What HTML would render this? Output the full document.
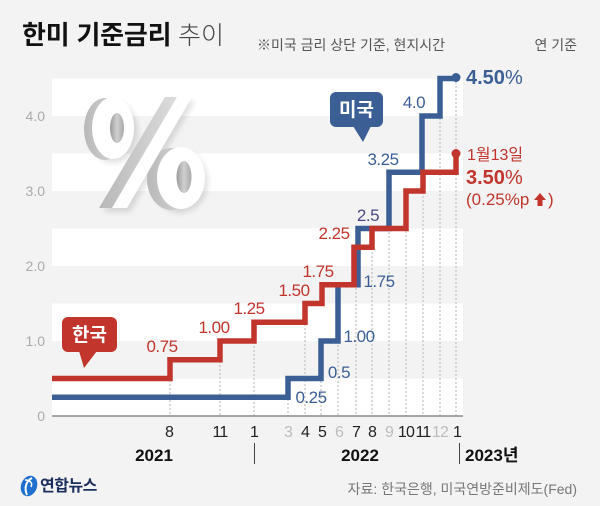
<!DOCTYPE html>
<html><head><meta charset="utf-8">
<style>
html,body{margin:0;padding:0;background:#f3f3f3;}
svg{display:block;}
text{font-family:"Liberation Sans","Noto Sans CJK KR",sans-serif;}
.kr{font-family:"Liberation Sans","Noto Sans CJK KR",sans-serif;}
</style></head>
<body>
<svg width="600" height="506" viewBox="0 0 600 506" xmlns="http://www.w3.org/2000/svg">
<defs>
<linearGradient id="hole" x1="0" y1="0" x2="1" y2="0">
<stop offset="0" stop-color="#9a9a9a"/>
<stop offset="0.5" stop-color="#d0d0d0"/>
<stop offset="1" stop-color="#a8a8a8"/>
</linearGradient>
<linearGradient id="ext" x1="0" y1="0" x2="1" y2="0">
<stop offset="0" stop-color="#b8b8b8"/>
<stop offset="1" stop-color="#dcdcdc"/>
</linearGradient>
<filter id="sh" x="-20%" y="-20%" width="140%" height="140%">
<feGaussianBlur stdDeviation="3"/>
</filter>
</defs>
<rect x="0" y="0" width="600" height="506" fill="#f3f3f3"/>
<!-- bands -->
<g fill="#ffffff">
<rect x="52" y="78.5" width="411" height="37.5"/>
<rect x="52" y="153.5" width="411" height="37.5"/>
<rect x="52" y="228.5" width="411" height="37.5"/>
<rect x="52" y="303.5" width="411" height="37.5"/>
<rect x="52" y="378.5" width="411" height="37.5"/>
</g>
<!-- title -->
<text x="22" y="44" font-size="26" font-weight="bold" fill="#111" class="kr" letter-spacing="-0.2">한미 기준금리</text>
<text x="178" y="44" font-size="25" font-weight="300" fill="#444" class="kr">추이</text>
<text x="257" y="50" font-size="14" fill="#555" class="kr">※미국 금리 상단 기준, 현지시간</text>
<text x="577" y="50" font-size="14" fill="#555" text-anchor="end" class="kr">연 기준</text>
<!-- y labels -->
<g font-size="14" fill="#aaa" text-anchor="end">
<text x="45" y="121">4.0</text>
<text x="45" y="196">3.0</text>
<text x="45" y="271">2.0</text>
<text x="45" y="346">1.0</text>
<text x="45" y="421">0</text>
</g>
<!-- big percent decoration (shapes) -->
<g>
<g filter="url(#sh)" fill="#000" opacity="0.12" transform="translate(3,4)">
<ellipse cx="110" cy="128" rx="25" ry="31"/>
<ellipse cx="177" cy="178" rx="28" ry="31"/>
<polygon points="100,208 127,208 192,97 165,97"/>
</g>
<g fill="url(#ext)">
<ellipse cx="105" cy="129" rx="21" ry="31"/>
<ellipse cx="171" cy="179" rx="24" ry="31"/>
<polygon points="99,208 112,208 177,97 165,97"/>
</g>
<g fill="#ffffff">
<ellipse cx="113" cy="128" rx="21" ry="31"/>
<ellipse cx="181" cy="178" rx="24" ry="31"/>
<polygon points="112,208 127,208 192,97 177,97"/>
</g>
<ellipse cx="117" cy="128" rx="7" ry="15" fill="url(#hole)"/>
<ellipse cx="184" cy="177" rx="7.5" ry="16" fill="url(#hole)"/>
</g>
<!-- dashed ticks -->
<g stroke="#b5b5b5" stroke-width="1" stroke-dasharray="2,2" fill="none">
<line x1="170" y1="360" x2="170" y2="416"/>
<line x1="220" y1="341" x2="220" y2="416"/>
<line x1="254" y1="322" x2="254" y2="416"/>
<line x1="288" y1="379" x2="288" y2="416"/>
<line x1="305" y1="304" x2="305" y2="416"/>
<line x1="321" y1="341" x2="321" y2="416"/>
<line x1="338" y1="285" x2="338" y2="416"/>
<line x1="356" y1="228" x2="356" y2="416"/>
<line x1="372" y1="228" x2="372" y2="416"/>
<line x1="389" y1="172" x2="389" y2="416"/>
<line x1="406" y1="191" x2="406" y2="416"/>
<line x1="423" y1="116" x2="423" y2="416"/>
<line x1="440" y1="78" x2="440" y2="416"/>
<line x1="456" y1="78" x2="456" y2="416"/>
</g>
<!-- axis -->
<line x1="52" y1="416" x2="463" y2="416" stroke="#8a8a8a" stroke-width="1.5"/>
<!-- blue series -->
<path d="M52,397.25 H288 V378.5 H321 V341 H338 V284.75 H358 V228.5 H389 V172.25 H422 V116 H440 V78.5 H456" fill="none" stroke="#3b5f95" stroke-width="5.5" stroke-linejoin="miter"/>
<circle cx="456" cy="77.5" r="4.5" fill="#3b5f95"/>
<!-- red series -->
<path d="M52,378.5 H170 V359.75 H220 V341 H254 V322.25 H305 V303.5 H322 V284.75 H354 V247.25 H372 V228.5 H406 V191 H423 V172.25 H456 V153.5" fill="none" stroke="#c1352c" stroke-width="5.5" stroke-linejoin="miter"/>
<circle cx="456" cy="153.5" r="4.5" fill="#c1352c"/>
<!-- red labels -->
<g font-size="17" fill="#c1352c" text-anchor="middle" letter-spacing="-0.5">
<text x="162" y="352">0.75</text>
<text x="214" y="333">1.00</text>
<text x="249" y="314">1.25</text>
<text x="294" y="296">1.50</text>
<text x="318" y="277">1.75</text>
<text x="334" y="239">2.25</text>
</g>
<!-- blue labels -->
<g font-size="17" fill="#3b5f95" text-anchor="middle" letter-spacing="-0.5">
<text x="311" y="403">0.25</text>
<text x="339" y="378">0.5</text>
<text x="359" y="342">1.00</text>
<text x="379" y="287">1.75</text>
<text x="368" y="221" fill="#4a4a82">2.5</text>
<text x="383" y="165">3.25</text>
<text x="414" y="108">4.0</text>
</g>
<!-- end labels -->
<text x="466" y="84" font-size="20" font-weight="bold" fill="#3b5f95">4.50<tspan font-weight="normal">%</tspan></text>
<text x="467" y="160" font-size="16" fill="#c1352c" class="kr">1월13일</text>
<text x="466" y="184" font-size="20" font-weight="bold" fill="#c1352c">3.50<tspan font-weight="normal">%</tspan></text>
<text x="466" y="205" font-size="17" fill="#c1352c" class="kr">(0.25%p</text>
<polygon points="540,193 546,200 542.5,200 542.5,206 537.5,206 537.5,200 534,200" fill="#c1352c"/>
<text x="548" y="205" font-size="17" fill="#c1352c">)</text>
<!-- 미국 callout -->
<rect x="330" y="92" width="53" height="35" rx="6" fill="#3b5f95"/>
<polygon points="353,126 371,126 363,142" fill="#3b5f95"/>
<text x="356.5" y="116" font-size="19" font-weight="bold" fill="#fff" text-anchor="middle" class="kr">미국</text>
<!-- 한국 callout -->
<rect x="62" y="317" width="55" height="35" rx="6" fill="#c1352c"/>
<polygon points="79,351 97,351 84,368" fill="#c1352c"/>
<text x="89.5" y="341" font-size="19" font-weight="bold" fill="#fff" text-anchor="middle" class="kr">한국</text>
<!-- month labels -->
<g font-size="16" text-anchor="middle" fill="#222" letter-spacing="-0.8">
<text x="169" y="437">8</text>
<text x="220" y="437">11</text>
<text x="254" y="437">1</text>
<text x="288" y="437" fill="#bdbdbd">3</text>
<text x="305" y="437">4</text>
<text x="322" y="437">5</text>
<text x="339" y="437" fill="#bdbdbd">6</text>
<text x="356" y="437">7</text>
<text x="372" y="437">8</text>
<text x="389" y="437" fill="#bdbdbd">9</text>
<text x="406" y="437">10</text>
<text x="423" y="437">11</text>
<text x="440" y="437" fill="#bdbdbd">12</text>
<text x="457" y="437">1</text>
</g>
<!-- year labels -->
<g font-size="17" font-weight="bold" fill="#111">
<text x="154" y="461" text-anchor="middle">2021</text>
<text x="360" y="461" text-anchor="middle">2022</text>
<text x="465" y="461" class="kr">2023년</text>
</g>
<line x1="254.5" y1="443" x2="254.5" y2="464" stroke="#444" stroke-width="1"/>
<line x1="459.5" y1="443" x2="459.5" y2="464" stroke="#444" stroke-width="1"/>
<!-- footer logo -->
<ellipse cx="29" cy="486" rx="8" ry="10.5" transform="rotate(20 29 486)" fill="#1f6fcf"/>
<path d="M32,478 C26,481 24,488 27,495" stroke="#fff" stroke-width="2" fill="none"/>
<path d="M25,480 C30,480 33,483 31,487" stroke="#fff" stroke-width="1.5" fill="none"/>
<text x="40" y="491" font-size="16" font-weight="bold" fill="#1c2e5e" class="kr" letter-spacing="-0.5">연합뉴스</text>
<text x="577" y="494" font-size="14" fill="#777" text-anchor="end" class="kr">자료: 한국은행, 미국연방준비제도(Fed)</text>
</svg>
</body></html>
